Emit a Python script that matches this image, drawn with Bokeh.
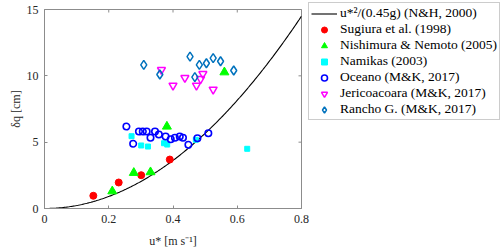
import numpy as np
from bokeh.plotting import figure
from bokeh.models import Range1d, FixedTicker, Legend
from bokeh.embed import file_html
from bokeh.resources import INLINE

# ---- data ----
x_ticks = [0, 0.2, 0.4, 0.6, 0.8]
x_tick_labels = ["0", "0.2", "0.4", "0.6", "0.8"]
y_ticks = [0, 5, 10, 15]
y_tick_labels = ["0", "5", "10", "15"]
x_lim = (0, 0.8)
y_lim = (0, 15)

sugiura_u = [0.152, 0.231, 0.301, 0.390]
sugiura_d = [0.96, 1.96, 2.51, 3.69]

nishimura_u = [0.211, 0.278, 0.330, 0.381, 0.560]
nishimura_d = [1.30, 2.69, 2.74, 6.18, 10.27]

namikas_u = [0.271, 0.301, 0.322, 0.372, 0.382, 0.471, 0.631]
namikas_d = [5.45, 4.75, 4.67, 4.92, 4.82, 5.18, 4.50]

oceano_u = [0.255, 0.276, 0.294, 0.306, 0.318, 0.330, 0.344, 0.356,
            0.377, 0.393, 0.406, 0.421, 0.431, 0.448, 0.476, 0.510]
oceano_d = [6.18, 4.88, 5.80, 5.80, 5.80, 5.33, 5.80, 5.58,
            5.43, 5.22, 5.33, 5.43, 5.33, 4.80, 5.30, 5.67]

jeri_u = [0.364, 0.400, 0.437, 0.473, 0.486, 0.493, 0.525]
jeri_d = [10.45, 9.27, 9.85, 9.27, 9.77, 10.15, 8.97]

rancho_u = [0.309, 0.359, 0.453, 0.482, 0.504, 0.525, 0.548, 0.468, 0.589]
rancho_d = [10.83, 10.10, 11.45, 10.83, 10.95, 11.33, 11.10, 9.90, 10.40]

# model curve u*^2/(0.45 g), in cm
g = 9.81
curve_u = np.linspace(x_lim[0], x_lim[1], 200)
curve_d = curve_u ** 2 / (0.45 * g) * 100

FONT = "Liberation Serif"
AXIS_COLOR = "#8c8c8c"
TEXT_COLOR = "#262626"

p = figure(frame_width=257, frame_height=199, output_backend="svg", toolbar_location=None,
           x_range=Range1d(*x_lim), y_range=Range1d(*y_lim),
           min_border_left=44, min_border_right=0, min_border_top=9,
           min_border_bottom=42)
p.grid.visible = False
p.outline_line_color = AXIS_COLOR
p.outline_line_width = 1

r_curve = p.line(curve_u, curve_d, line_color="black", line_width=1.1)
r_sug = p.scatter(sugiura_u, sugiura_d, marker="circle", size=7, fill_color="#ff0000",
                  line_color="#ff0000")
r_nis = p.scatter(nishimura_u, nishimura_d, marker="triangle", size=9, fill_color="#00ff00",
                  line_color="#00ff00")
r_nam = p.scatter(namikas_u, namikas_d, marker="square", size=5, fill_color="#00ffff",
                  line_color="#00ffff")
r_oce = p.scatter(oceano_u, oceano_d, marker="circle", size=6.5, fill_color=None,
                  line_color="#0000ff", line_width=1.6)
r_jer = p.scatter(jeri_u, jeri_d, marker="inverted_triangle", size=8, fill_color=None,
                  line_color="#ff00ff", line_width=1.5)
r_ran = p.scatter(rancho_u, rancho_d, marker="diamond", size=9, fill_color=None,
                  line_color="#0072bd", line_width=1.5)

# inward tick marks on the top and right edges of the box (clipped half-dashes)
p.scatter(x_ticks, [y_lim[1]] * len(x_ticks), marker="dash", size=6, angle=np.pi / 2,
          line_color=AXIS_COLOR, line_width=1)
p.scatter([x_lim[1]] * len(y_ticks), y_ticks, marker="dash", size=6,
          line_color=AXIS_COLOR, line_width=1)

def style_axis(ax, labels, ticks):
    ax.ticker = FixedTicker(ticks=ticks)
    ax.axis_line_color = AXIS_COLOR
    ax.major_tick_line_color = AXIS_COLOR
    ax.major_tick_in = 3
    ax.major_tick_out = 0
    ax.minor_tick_line_color = None
    ax.major_label_text_font = FONT
    ax.major_label_text_font_size = "12px"
    ax.major_label_text_color = TEXT_COLOR
    ax.axis_label_text_font = FONT
    ax.axis_label_text_font_size = "12px"
    ax.axis_label_text_font_style = "normal"
    ax.axis_label_text_color = TEXT_COLOR
    ax.major_label_overrides = {t: l for t, l in zip(ticks, labels)}

xa = p.xaxis[0]
ya = p.yaxis[0]
style_axis(xa, x_tick_labels, x_ticks)
style_axis(ya, y_tick_labels, y_ticks)
xa.axis_label = "u* [m s⁻¹]"
ya.axis_label = "δq [cm]"
xa.major_label_standoff = 6
xa.axis_label_standoff = 8
ya.major_label_standoff = 6
ya.axis_label_standoff = 1

lg = Legend(items=[
    ("u*²/(0.45g) (N&H, 2000)", [r_curve]),
    ("Sugiura et al. (1998)", [r_sug]),
    ("Nishimura & Nemoto (2005)", [r_nis]),
    ("Namikas (2003)", [r_nam]),
    ("Oceano (M&K, 2017)", [r_oce]),
    ("Jericoacoara (M&K, 2017)", [r_jer]),
    ("Rancho G. (M&K, 2017)", [r_ran]),
])
lg.location = (7, 88)
lg.label_text_font = FONT
lg.label_text_font_size = "13.5px"
lg.label_text_color = "black"
lg.border_line_color = "#9a9a9a"
lg.border_line_width = 1
lg.background_fill_color = "white"
lg.background_fill_alpha = 1
lg.padding = 2
lg.margin = 0
lg.spacing = 0
lg.glyph_width = 26
lg.glyph_height = 15
lg.label_height = 15
lg.label_standoff = 3
p.add_layout(lg, "right")

html = file_html(p, INLINE)
html = html.replace("<body>", '<body style="margin:0">', 1)
open("out.html", "w").write(html)
